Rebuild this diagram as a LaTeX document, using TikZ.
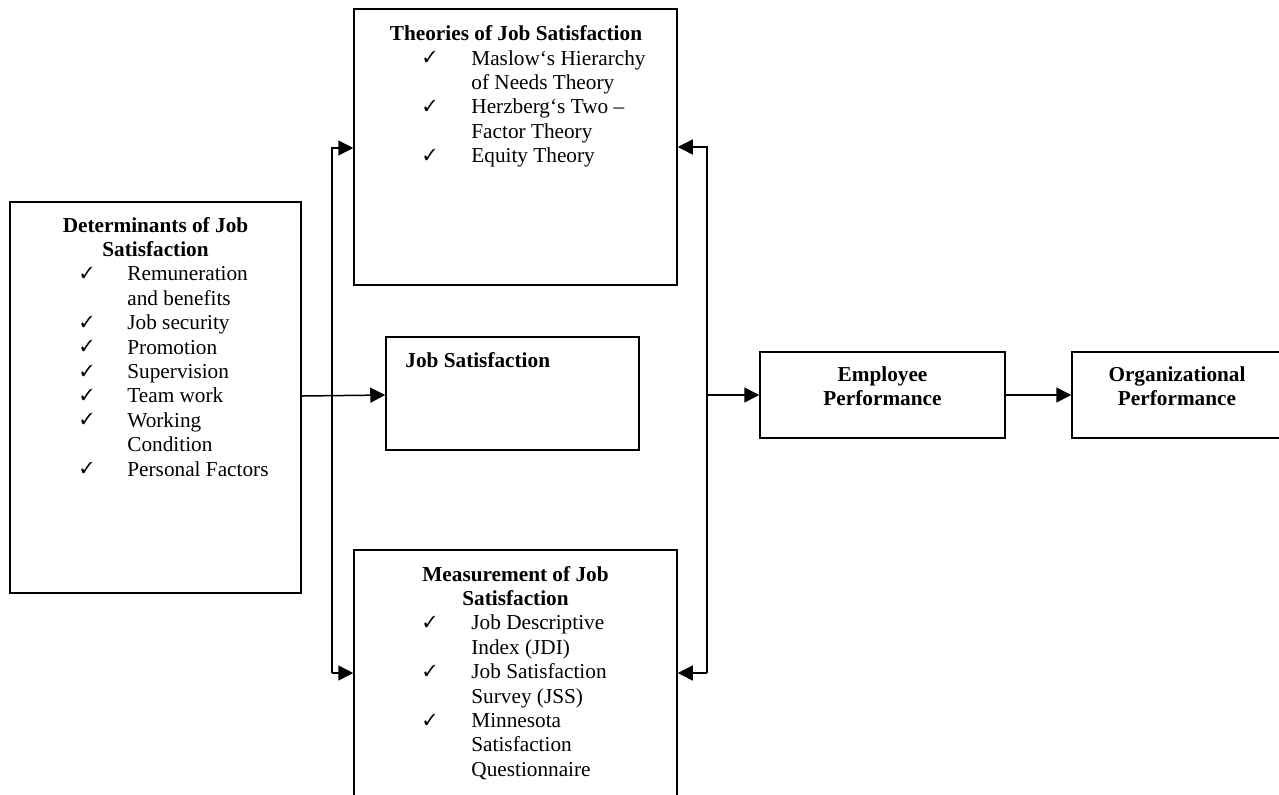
\documentclass[tikz,border=0pt]{standalone}
\usepackage{fontspec}
\setmainfont{Liberation Serif}
\usepackage{pifont}
\usetikzlibrary{arrows.meta,fit}
\tikzset{
  box/.style={draw, line width=0.75pt, inner sep=0pt, rectangle},
  txt/.style={inner sep=0pt, anchor=base west, font=\fontsize{10.63}{12.2}\selectfont},
  ttl/.style={inner sep=0pt, anchor=base, font=\fontsize{10.63}{12.2}\selectfont\bfseries},
  ttlw/.style={inner sep=0pt, anchor=base west, font=\fontsize{10.63}{12.2}\selectfont\bfseries},
  chk/.style={inner sep=0pt, anchor=base, yshift=1.2pt, font=\fontsize{8}{8}\selectfont},
  conn/.style={line width=0.75pt},
  arr/.style={conn, -{Triangle[length=7.5pt,width=7.5pt]}},
}
\begin{document}
\begin{tikzpicture}[x=0.5pt,y=-0.5pt]
\useasboundingbox (0,0) rectangle (1279,794);

% boxes
\node[box, fit={(10,202) (301,593)}] (det) {};
\node[box, fit={(354,9) (677,285)}] (th) {};
\node[box, fit={(386,337) (639,450)}] (js) {};
\node[box, fit={(354,550) (677,805)}] (ms) {};
\node[box, fit={(760,352) (1005,438)}] (emp) {};
\node[box, fit={(1072,352) (1282,438)}] (org) {};

% Theories text
\node[ttl] (tht) at (516,40.6) {Theories of Job Satisfaction};
\node[chk] (thc1) at (430,65) {\ding{51}};
\node[txt] (th1) at (471,65) {Maslow‘s Hierarchy};
\node[txt] (th2) at (471,89.4) {of Needs Theory};
\node[chk] (thc2) at (430,113.8) {\ding{51}};
\node[txt] (th3) at (471,113.8) {Herzberg‘s Two –};
\node[txt] (th4) at (471,138.2) {Factor Theory};
\node[chk] (thc3) at (430,162.6) {\ding{51}};
\node[txt] (th5) at (471,162.6) {Equity Theory};

% Determinants text
\node[ttl] (dtt1) at (155.5,232) {Determinants of Job};
\node[ttl] (dtt2) at (155.5,256.4) {Satisfaction};
\node[chk] (dc1) at (87,280.8) {\ding{51}};
\node[txt] (d1) at (127,280.8) {Remuneration};
\node[txt] (d2) at (127,305.2) {and benefits};
\node[chk] (dc2) at (87,329.6) {\ding{51}};
\node[txt] (d3) at (127,329.6) {Job security};
\node[chk] (dc3) at (87,354) {\ding{51}};
\node[txt] (d4) at (127,354) {Promotion};
\node[chk] (dc4) at (87,378.4) {\ding{51}};
\node[txt] (d5) at (127,378.4) {Supervision};
\node[chk] (dc5) at (87,402.8) {\ding{51}};
\node[txt] (d6) at (127,402.8) {Team work};
\node[chk] (dc6) at (87,427.2) {\ding{51}};
\node[txt] (d7) at (127,427.2) {Working};
\node[txt] (d8) at (127,451.6) {Condition};
\node[chk] (dc7) at (87,476) {\ding{51}};
\node[txt] (d9) at (127,476) {Personal Factors};

% Job Satisfaction text
\node[ttlw] (jst) at (405,367) {Job Satisfaction};

% Measurement text
\node[ttl] (mst1) at (515.5,581) {Measurement of Job};
\node[ttl] (mst2) at (515.5,605.4) {Satisfaction};
\node[chk] (mc1) at (430,629.8) {\ding{51}};
\node[txt] (m1) at (471,629.8) {Job Descriptive};
\node[txt] (m2) at (471,654.2) {Index (JDI)};
\node[chk] (mc2) at (430,678.6) {\ding{51}};
\node[txt] (m3) at (471,678.6) {Job Satisfaction};
\node[txt] (m4) at (471,703) {Survey (JSS)};
\node[chk] (mc3) at (430,727.4) {\ding{51}};
\node[txt] (m5) at (471,727.4) {Minnesota};
\node[txt] (m6) at (471,751.8) {Satisfaction};
\node[txt] (m7) at (471,776.2) {Questionnaire};

% Employee / Organizational text
\node[ttl] (et1) at (882.5,381) {Employee};
\node[ttl] (et2) at (882.5,405.4) {Performance};
\node[ttl] (ot1) at (1177,381) {Organizational};
\node[ttl] (ot2) at (1177,405.4) {Performance};

% bus coordinates
\coordinate (lt) at (332,148);
\coordinate (lb) at (332,673);
\coordinate (rt) at (707,147);
\coordinate (rb) at (707,673);
\coordinate (rm) at (707,395);

% connectors
\draw[arr] (det.east |- 0,396) -- (js.west |- 0,395);
\draw[arr] (lb) -- (lt) -- (lt -| th.west);
\draw[arr] (lb) -- (lb -| ms.west);
\draw[arr] (rb) -- (rt) -- (rt -| th.east);
\draw[arr] (rb) -- (rb -| ms.east);
\draw[arr] (rm) -- (rm -| emp.west);
\draw[arr] (emp.east |- 0,395) -- (org.west |- 0,395);
\end{tikzpicture}
\end{document}
